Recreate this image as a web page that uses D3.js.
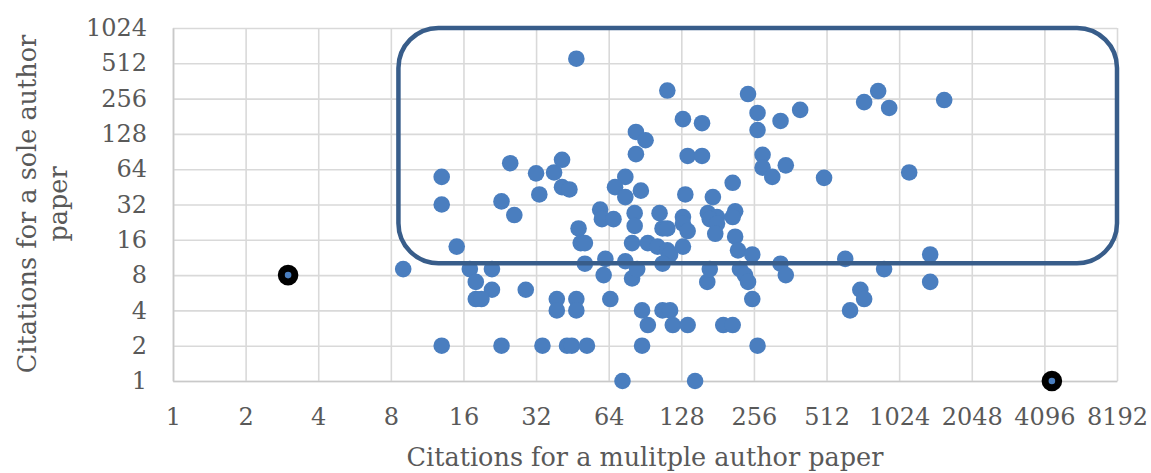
<!DOCTYPE html>
<html>
<head>
<meta charset="utf-8">
<script src="https://cdn.jsdelivr.net/npm/d3@7"></script>
<style>
  html, body { margin: 0; padding: 0; background: #fff; }
  svg { display: block; }
</style>
</head>
<body>
<svg id="chart"></svg>
<script>
// citations for a multiple author paper (x) and for a sole author paper (y)
const multAuthor = [
  9, 13, 13, 13, 15, 17, 21, 18, 21, 18, 19, 29, 39, 39, 47, 47, 48, 49, 51, 51,
  59, 60, 67, 62, 61, 65, 75, 80, 84,
  23, 34, 43, 45, 52, 88, 265, 73, 146,
  47, 25, 32, 38, 41, 41, 44, 33, 23, 26, 75, 68, 75, 83, 91, 83, 82,
  112, 130, 156, 136, 156, 87, 133, 173, 209, 242, 265, 265, 330, 398, 278, 278, 305, 347, 500,
  104, 130, 165, 180, 214,
  82, 107, 112, 130, 136, 168, 180, 177, 209, 214, 220, 252, 80, 93, 102, 112, 115, 130, 107,
  164, 168, 224, 235, 242, 252, 330, 347, 612, 707, 733, 641, 88, 93, 107, 115, 118, 136, 191, 209,
  733, 838, 931, 1574, 1127, 887, 1377, 1377
];
const soleAuthor = [
  9, 55, 32, 2, 14, 9, 9, 7, 6, 5, 5, 6, 5, 4, 5, 4, 20, 15, 15, 10,
  29, 24, 24, 11, 8, 5, 10.5, 7.5, 9,
  2, 2, 2, 2, 2, 2, 2, 1, 1,
  560, 72, 59, 60, 77, 45, 43, 39, 34, 26, 55, 45, 37, 133, 113, 86, 27,
  300, 171, 158, 83, 83, 42, 39, 37, 49, 280, 193, 138, 165, 205, 85, 66, 55, 69, 54,
  27, 25, 27, 25, 28,
  21, 20, 20, 22, 19, 24, 22, 18, 25, 17, 13, 12, 15, 15, 14, 13, 12, 14, 10,
  7, 9, 9, 8, 7, 5, 10, 8, 11, 6, 5, 4, 4, 3, 4, 4, 3, 3, 3, 3,
  239, 297, 213, 249, 60, 9, 12, 7
];
// the two circled papers
const outlierMult = [3, 4400];
const outlierSole = [8, 1];

const xTicks = [1, 2, 4, 8, 16, 32, 64, 128, 256, 512, 1024, 2048, 4096, 8192];
const yTicks = [1, 2, 4, 8, 16, 32, 64, 128, 256, 512, 1024];

// highlighted region (rounded box), in data units
const boxMult = [8.6, 8192];
const boxSole = [10.1, 1024];

const xTitle = 'Citations for a mulitple author paper';
const yTitle = ['Citations for a sole author', 'paper'];

const width = 1151, height = 473;
const margin = { top: 28, right: 34, bottom: 92, left: 173 };
const font = '"DejaVu Serif", "Liberation Serif", serif';
const textColor = '#595959';
const gridColor = '#d9d9d9';
const dotColor = '#4a7ebf';

const svg = d3.select('#chart')
  .attr('width', width)
  .attr('height', height)
  .style('font-family', font);

const x = d3.scaleLog().base(2).domain([1, 8192]).range([margin.left, width - margin.right]);
const y = d3.scaleLog().base(2).domain([1, 1024]).range([height - margin.bottom, margin.top]);

// gridlines
svg.append('g')
  .attr('transform', `translate(0,${margin.top})`)
  .call(d3.axisBottom(x).tickValues(xTicks).tickSize(y(1) - y(1024)).tickFormat(''))
  .call(g => g.select('.domain').remove())
  .call(g => g.selectAll('line').attr('stroke', gridColor).attr('stroke-width', 1.6));

svg.append('g')
  .attr('transform', `translate(${margin.left},0)`)
  .call(d3.axisRight(y).tickValues(yTicks).tickSize(x(8192) - x(1)).tickFormat(''))
  .call(g => g.select('.domain').remove())
  .call(g => g.selectAll('line').attr('stroke', gridColor).attr('stroke-width', 1.6));

// axes with labels
const xAxis = svg.append('g')
  .attr('transform', `translate(0,${y(1)})`)
  .call(d3.axisBottom(x).tickValues(xTicks).tickSize(0).tickPadding(27).tickFormat(d3.format('d')));
xAxis.select('.domain').attr('stroke', '#c9c9c9').attr('stroke-width', 1.6);
xAxis.selectAll('text').attr('fill', textColor).style('font-size', '24px').style('font-family', font);

const yAxis = svg.append('g')
  .attr('transform', `translate(${x(1)},0)`)
  .call(d3.axisLeft(y).tickValues(yTicks).tickSize(0).tickPadding(26).tickFormat(d3.format('d')));
yAxis.select('.domain').attr('stroke', '#c9c9c9').attr('stroke-width', 1.6);
yAxis.selectAll('text').attr('fill', textColor).style('font-size', '24px').style('font-family', font);

// scatter points
const points = multAuthor.map((m, i) => ({ m, s: soleAuthor[i] }));
svg.append('g')
  .selectAll('circle')
  .data(points)
  .join('circle')
  .attr('cx', d => x(d.m))
  .attr('cy', d => y(d.s))
  .attr('r', 8.3)
  .attr('fill', dotColor);

// rounded highlight box
svg.append('rect')
  .attr('x', x(boxMult[0]))
  .attr('y', y(boxSole[1]))
  .attr('width', x(boxMult[1]) - x(boxMult[0]))
  .attr('height', y(boxSole[0]) - y(boxSole[1]))
  .attr('rx', 40)
  .attr('ry', 40)
  .attr('fill', 'none')
  .attr('stroke', '#385d8a')
  .attr('stroke-width', 4.5);

// circled outliers
svg.append('g')
  .selectAll('circle')
  .data(outlierMult.map((m, i) => ({ m, s: outlierSole[i] })))
  .join('circle')
  .attr('cx', d => x(d.m))
  .attr('cy', d => y(d.s))
  .attr('r', 6.8)
  .attr('fill', dotColor)
  .attr('stroke', '#000')
  .attr('stroke-width', 7);

// axis titles
svg.append('text')
  .attr('x', (x(1) + x(8192)) / 2)
  .attr('y', 466)
  .attr('text-anchor', 'middle')
  .attr('fill', textColor)
  .style('font-size', '25.5px')
  .text(xTitle);

const yMid = 204;
svg.append('text')
  .attr('transform', `translate(36,${yMid}) rotate(-90)`)
  .attr('text-anchor', 'middle')
  .attr('fill', textColor)
  .style('font-size', '25.5px')
  .text(yTitle[0]);
svg.append('text')
  .attr('transform', `translate(67,${yMid}) rotate(-90)`)
  .attr('text-anchor', 'middle')
  .attr('fill', textColor)
  .style('font-size', '25.5px')
  .text(yTitle[1]);
</script>
</body>
</html>
